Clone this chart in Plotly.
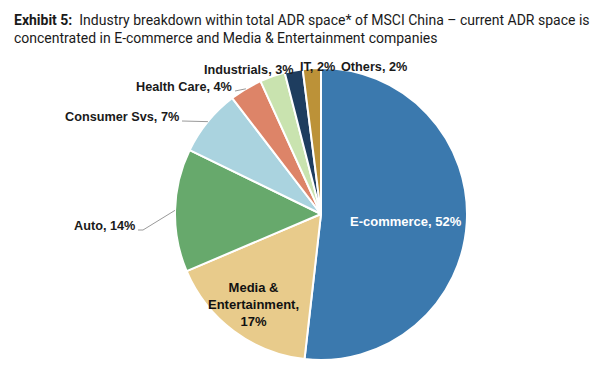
import math
import plotly.graph_objects as go

names = ["E-commerce", "Media & Entertainment", "Auto", "Consumer Svs", "Health Care",
         "Industrials", "IT", "Others"]
values = [51.8, 16.8, 13.6, 7.4, 3.6, 2.8, 2.0, 2.0]
colors = ["#3B79AE", "#E8CB8B", "#67A96C", "#AAD3DF", "#DD8468", "#C9E3AF", "#1E3D5F", "#BC9238"]

W, H = 600, 370
OFF = 8  # page body margin
CX, CY, R = 321, 214, 146  # pie centre / radius in page pixels


def to_paper(px, py):
    return (px - OFF) / W, 1 - (py - OFF) / H


dx0, dy0 = to_paper(CX - R, CY + R)
dx1, dy1 = to_paper(CX + R, CY - R)

fig = go.Figure(go.Pie(
    labels=names, values=values, sort=False, direction="clockwise", rotation=0,
    marker=dict(colors=colors, line=dict(color="white", width=2)),
    textinfo="none", hoverinfo="label+percent", showlegend=False,
    domain=dict(x=[dx0, dx1], y=[dy0, dy1]),
))

total = sum(values)
mids = []
acc = 0
for v in values:
    mids.append((acc + v / 2) / total * 2 * math.pi)
    acc += v


def pt(ang, r):
    return CX + r * math.sin(ang), CY - r * math.cos(ang)


annotations = []
shapes = []
FONT = "Liberation Sans"

# inside labels: radius fraction, colour, extra vertical shift (px)
inside = {0: (0.58, "white", 3), 1: (0.77, "#111111", 0)}
for i, (rf, col, dy) in inside.items():
    px, py = pt(mids[i], R * rf)
    x, y = to_paper(px, py + dy)
    if i == 0:
        txt = f"{names[i]}, {values[i]:.0f}%"
    else:
        txt = f"Media &<br>Entertainment,<br>{values[i]:.0f}%"
    annotations.append(dict(x=x, y=y, xref="paper", yref="paper", text=f"<b>{txt}</b>",
                            showarrow=False, font=dict(family=FONT, size=13, color=col),
                            xanchor="center", yanchor="middle"))

# outside labels: (index, label anchor x px, label y px, elbow x px or None, xanchor)
outside = [
    (2, 137, 226, 143, "right"),
    (3, 181, 117, None, "right"),
    (4, 234, 87, None, "right"),
    (5, 296, 70, None, "right"),
    (6, 298, 67, None, "left"),
    (7, 339, 67, None, "left"),
]
for i, lx, ly, elbow, xa in outside:
    ex, ey = pt(mids[i], R)
    x, y = to_paper(lx, ly)
    annotations.append(dict(x=x, y=y, xref="paper", yref="paper",
                            text=f"<b>{names[i]}, {values[i]:.0f}%</b>", showarrow=False,
                            font=dict(family=FONT, size=12.7, color="#1a1a1a"),
                            xanchor=xa, yanchor="middle"))
    if i in (2, 3, 4):
        sx, sy = lx + 1, ly + 4
        pts = [(sx, sy)]
        if elbow:
            pts.append((elbow, sy))
        pts.append((ex, ey))
        for (ax_, ay_), (bx_, by_) in zip(pts[:-1], pts[1:]):
            x0, y0 = to_paper(ax_, ay_)
            x1, y1 = to_paper(bx_, by_)
            shapes.append(dict(type="line", xref="paper", yref="paper", x0=x0, y0=y0, x1=x1, y1=y1,
                               line=dict(color="#9a9a9a", width=1)))

# title
tx, ty = to_paper(12, 10)
annotations.append(dict(x=tx, y=ty, xref="paper", yref="paper", xanchor="left", yanchor="top",
                        align="left", showarrow=False,
                        text="<b>Exhibit 5:</b>  Industry breakdown within total ADR space* of MSCI China – current ADR space is<br>concentrated in E-commerce and Media & Entertainment companies",
                        font=dict(family="Roboto", size=14, color="#1a1a1a")))

fig.update_layout(width=W, height=H, margin=dict(l=0, r=0, t=0, b=0),
                  paper_bgcolor="white", plot_bgcolor="white",
                  annotations=annotations, shapes=shapes)
fig.write_html("out.html")
